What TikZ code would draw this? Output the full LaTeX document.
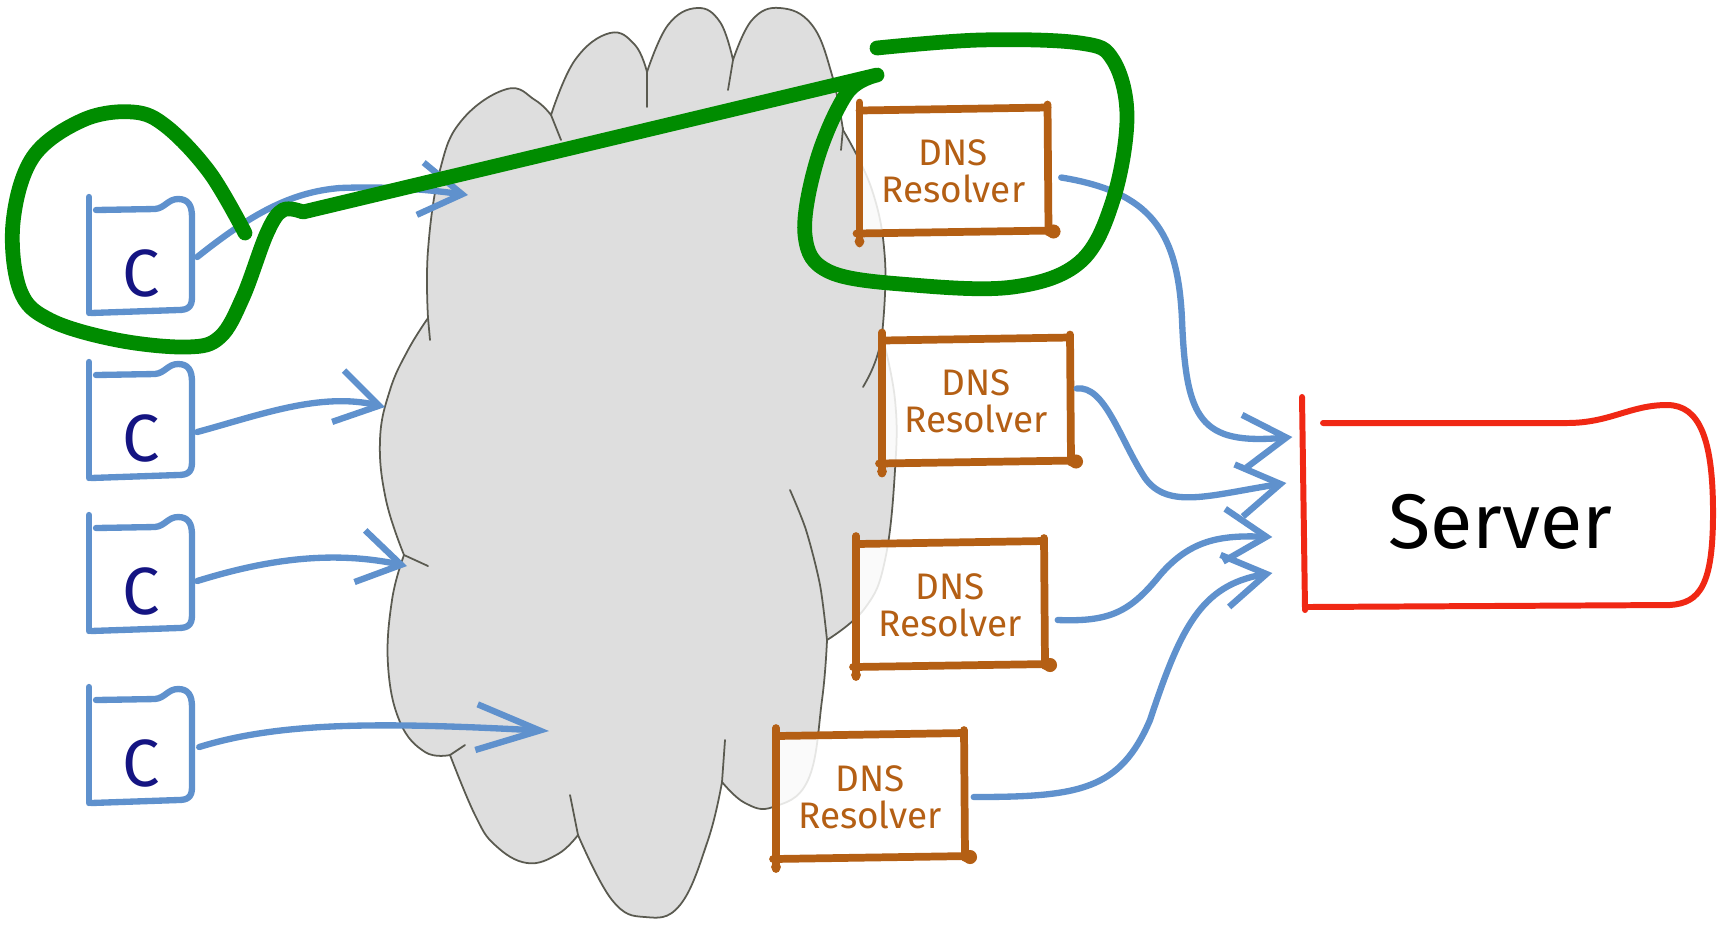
\documentclass[tikz,border=0pt]{standalone}
\usepackage{fontspec}
\setmainfont{Fira Sans}
\usetikzlibrary{arrows.meta,calc}
\definecolor{cloudfill}{RGB}{222,222,222}
\definecolor{cloudline}{RGB}{90,90,80}
\definecolor{flowblue}{RGB}{95,145,205}
\definecolor{dnsbrown}{RGB}{180,95,20}
\definecolor{srvred}{RGB}{240,40,20}
\definecolor{hlgreen}{RGB}{0,140,0}
\definecolor{cnavy}{RGB}{20,20,130}
\begin{document}
\begin{tikzpicture}[x=0.1mm,y=-0.1mm,line cap=round,line join=round,
  cloudshape/.style={fill=cloudfill,draw=cloudline,line width=0.5pt},
  cloudtick/.style={draw=cloudline,line width=0.5pt},
  flow/.style={draw=flowblue,line width=1.8pt,-{Straight Barb[length=12pt,width=15pt]}},
  cbox/.style={draw=none,minimum width=10.3mm,minimum height=11.6mm,inner sep=0pt},
  cletter/.style={text=cnavy,font=\fontsize{19}{22}\selectfont,inner sep=0pt},
  cline/.style={draw=flowblue,line width=1.8pt},
  dnsbox/.style={draw=none,minimum width=18.8mm,minimum height=12.4mm,inner sep=0pt,align=center,text=dnsbrown,font=\fontsize{10.5}{10.5}\selectfont},
  dnsline/.style={draw=dnsbrown,line width=2.2pt},
  srvbox/.style={draw=none,minimum width=39.6mm,minimum height=18.4mm,inner sep=0pt,font=\fontsize{22}{26}\selectfont},
  srvline/.style={draw=srvred,line width=1.7pt},
  hilite/.style={draw=hlgreen,line width=4.2pt},
  cshape/.pic={
    \draw[cline] (-51,-58) -- (-51,58);
    \draw[cline] (-44,-45) -- (15,-46) .. controls (25,-47) and (28,-56) .. (38,-56) .. controls (48,-56) and (52,-50) .. (52,-38) -- (52,42) .. controls (52,52) and (48,55) .. (38,55) -- (-49,58);
  },
  dnsshape/.pic={
    \fill[white,opacity=0.85] (-94,-62) rectangle (95,61);
    \draw[dnsline] (-94,-69) -- (-94,72);
    \draw[dnsline] (-94,-61) -- (94,-64);
    \draw[dnsline] (94,-67) -- (95,61);
    \draw[dnsline] (-97,62) -- (100,59);
    \fill[dnsbrown] (100,60) circle[radius=2pt];
    \fill[dnsbrown] (-94,70) circle[radius=1.4pt];
  }
]
\fill[white] (0,0) rectangle (1723,925);
\useasboundingbox (0,0) rectangle (1723,925);

% cloud
\path[cloudshape] plot[smooth,tension=.7] coordinates {(450,755) (425,752) (400,722) (388,665) (392,600) (404,555)}
 -- plot[smooth,tension=.7] coordinates {(404,555) (386,500) (380,440) (390,390) (408,350) (428,318)}
 -- plot[smooth,tension=.7] coordinates {(428,318) (428,250) (440,170) (462,120) (507,89) (535,100) (551,115)}
 -- plot[smooth,tension=.7] coordinates {(551,115) (575,60) (610,33) (635,45) (647,72)}
 -- plot[smooth,tension=.7] coordinates {(647,72) (668,25) (697,8) (720,22) (733,60)}
 -- plot[smooth,tension=.7] coordinates {(733,60) (752,20) (780,8) (812,25) (832,75) (843,130)}
 -- plot[smooth,tension=.7] coordinates {(843,130) (872,190) (885,260) (882,335)}
 -- plot[smooth,tension=.7] coordinates {(882,335) (895,400) (895,470) (885,560) (865,608) (827,640)}
 -- plot[smooth,tension=.7] coordinates {(827,640) (822,700) (808,780) (773,807) (745,803) (722,782)}
 -- plot[smooth,tension=.7] coordinates {(722,782) (708,840) (680,905) (645,917) (612,900) (578,835)}
 -- plot[smooth,tension=.7] coordinates {(578,835) (558,854) (527,863) (495,845) (475,815) (450,755)}
 -- cycle;
\draw[cloudtick] (551,115) -- (561,140);
\draw[cloudtick] (647,72) -- (647,107);
\draw[cloudtick] (733,60) -- (728,90);
\draw[cloudtick] (843,128) -- (841,150);
\draw[cloudtick] (882,335) .. controls (878,360) and (870,375) .. (863,387);
\draw[cloudtick] plot[smooth] coordinates {(827,640) (820,585) (806,530) (790,490)};
\draw[cloudtick] (722,782) -- (725,740);
\draw[cloudtick] (578,835) -- (570,795);
\draw[cloudtick] (450,755) -- (465,745);
\draw[cloudtick] (404,555) -- (428,566);
\draw[cloudtick] (428,318) -- (430,340);

% clients
\foreach \i/\y in {1/255,2/420,3/573,4/745}{
  \node[cbox] (c\i) at (140,\y) {};
  \pic at (140,\y) {cshape};
  \node[cletter] (c\i t) at (141,\y+18) {C};
}
\coordinate (e1) at (468,195);
\coordinate (e2) at (385,407);
\coordinate (e3) at (407,566);
\coordinate (e4) at (549,731);
\draw[flow] ($(c1.east)+(5,2)$) .. controls (250,215) and (290,192) .. (340,188) .. controls (390,186) and (430,190) .. (e1);
\draw[flow] ($(c2.east)+(5,12)$) .. controls (260,415) and (320,392) .. (e2);
\draw[flow] ($(c3.east)+(5,8)$) .. controls (265,560) and (330,550) .. (e3);
\draw[flow,-{Straight Barb[length=18pt,width=13pt]}] ($(c4.east)+(7,2)$) .. controls (280,722) and (380,722) .. (e4);

% DNS resolvers
\foreach \i/\x/\y in {1/953.5/171.5,2/976/401.5,3/950/605,4/870/797}{
  \pic at (\x,\y) {dnsshape};
  \node[dnsbox] (d\i) at (\x,\y) {DNS\\Resolver};
}

% server
\node[srvbox] (srv) at (1500,522) {Server};
\draw[srvline] (1302,397) -- (1305,610);
\draw[srvline] (1323,423) -- (1567,423) .. controls (1610,423) and (1630,405) .. (1667,405) .. controls (1700,405) and (1713,440) .. (1713,513) .. controls (1713,585) and (1700,603) .. (1670,605) -- (1307,607);
\coordinate (s1) at ($(srv.west)+(-9,-85)$);
\coordinate (s2) at ($(srv.west)+(-15,-39)$);
\coordinate (s3) at ($(srv.west)+(-29,15)$);
\coordinate (s4) at ($(srv.west)+(-29,51)$);
\draw[flow] ($(d1.east)+(13,6)$) .. controls (1150,192) and (1178,230) .. (1182,320) .. controls (1186,420) and (1200,445) .. (s1);
\draw[flow] ($(d2.east)+(6,-13)$) .. controls (1105,385) and (1120,440) .. (1145,478) .. controls (1168,510) and (1210,495) .. (s2);
\draw[flow] ($(d3.east)+(13,15)$) .. controls (1110,622) and (1130,612) .. (1160,575) .. controls (1190,540) and (1220,535) .. (s3);
\draw[flow] ($(d4.east)+(9,0)$) .. controls (1080,797) and (1120,790) .. (1150,720) .. controls (1180,630) and (1200,585) .. (s4);

% green highlight
\draw[hilite] plot[smooth,tension=0.6] coordinates {(245,233) (210,173) (167,127) (133,112) (83,120) (33,157) (13,223) (20,290) (50,320) (117,340) (187,347) (220,337) (243,297) (267,233) (283,210) (303,212)}
  -- (877,75)
  -- plot[smooth,tension=0.6] coordinates {(877,75) (847,93) (817,160) (805,235) (830,272) (913,285) (1013,287) (1080,262) (1113,200) (1127,117) (1113,60) (1080,43) (980,40) (877,48)};
\end{tikzpicture}
\end{document}
